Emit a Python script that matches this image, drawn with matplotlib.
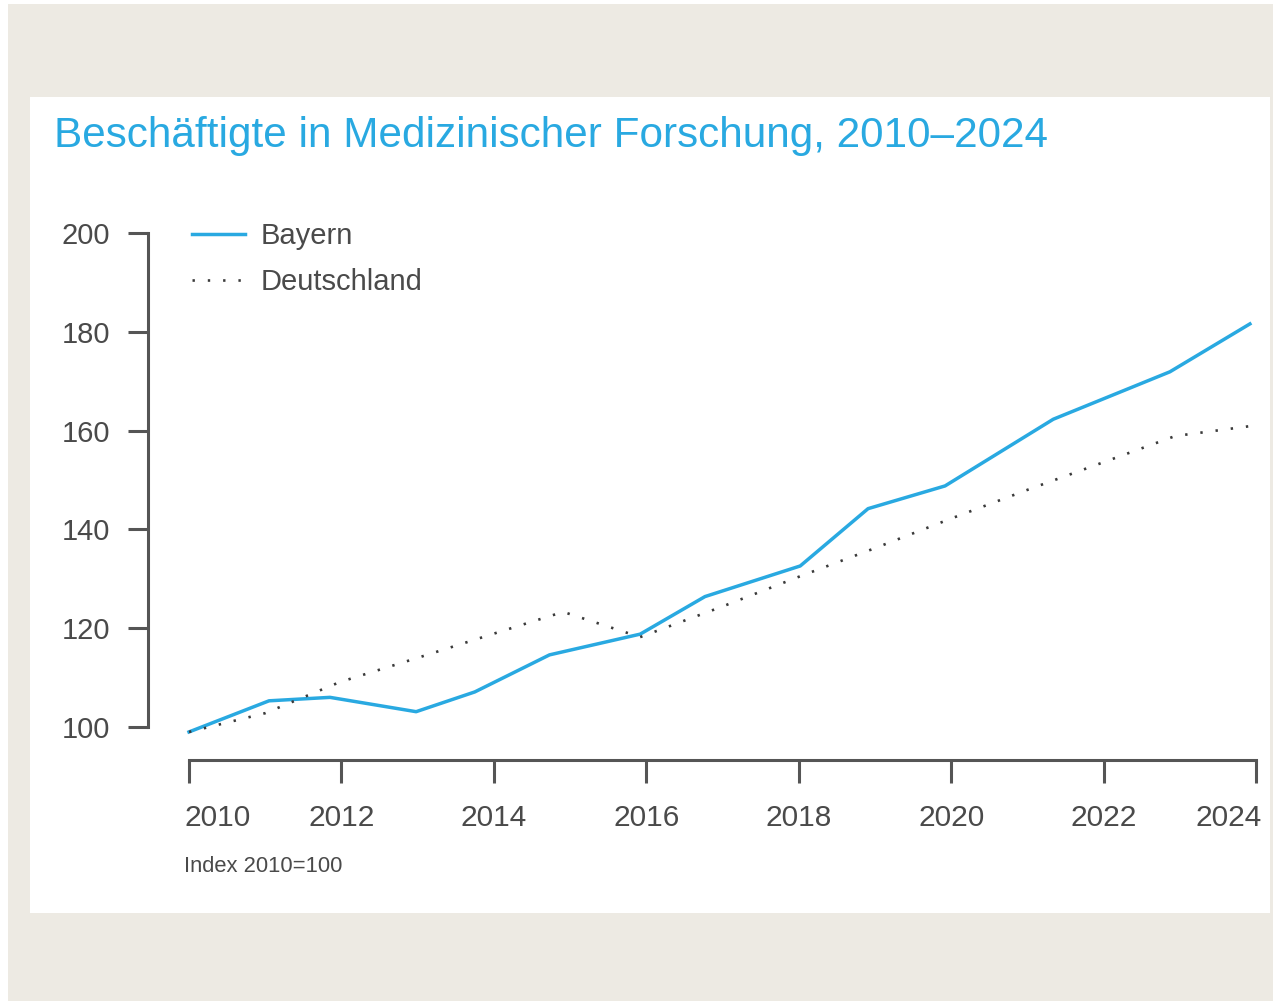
import matplotlib
matplotlib.use("Agg")
import matplotlib.pyplot as plt
from matplotlib.patches import Rectangle
from matplotlib.transforms import ScaledTranslation

plt.rcParams['font.family'] = ['Liberation Sans', 'DejaVu Sans']

# ---- data ----
bayern_x = [2010.0, 2011.05, 2011.85, 2012.98, 2013.75, 2014.73, 2015.92, 2016.77,
            2018.02, 2018.91, 2019.92, 2021.34, 2022.87, 2023.92]
bayern_y = [99.0, 105.3, 106.0, 103.1, 107.1, 114.6, 118.8, 126.4,
            132.6, 144.2, 148.8, 162.3, 171.9, 181.6]

de_x = [2010.0, 2011.0, 2011.98, 2013.0, 2014.0, 2014.91, 2015.92, 2017.0, 2018.0,
        2019.0, 2020.0, 2021.0, 2022.0, 2022.94, 2023.92]
de_y = [99.0, 102.8, 109.1, 114.0, 118.9, 123.3, 118.2, 124.4, 130.4,
        136.2, 142.2, 148.0, 153.6, 158.9, 160.9]

x_ticks = [2010, 2012, 2014, 2016, 2018, 2020, 2022, 2024]
y_ticks = [100, 120, 140, 160, 180, 200]

title = "Beschäftigte in Medizinischer Forschung, 2010–2024"
note = "Index 2010=100"
labels = ["Bayern", "Deutschland"]

# ---- styling ----
BLUE = "#29a9e1"
GREY = "#555555"
TEXT = "#4a4a4a"
BEIGE = "#edeae3"

W, H = 1273, 1001
fig = plt.figure(figsize=(W / 100, H / 100), dpi=100)
fig.patch.set_facecolor("white")

def px(x0, y0, x1, y1):
    return (x0 / W, 1 - y1 / H, (x1 - x0) / W, (y1 - y0) / H)

bx, by, bw, bh = px(8, 4, 1273, 1001)
fig.patches.append(Rectangle((bx, by), bw, bh, transform=fig.transFigure,
                             facecolor=BEIGE, edgecolor="none", zorder=-10))
wx, wy, ww, wh = px(30, 97, 1270, 913)
fig.patches.append(Rectangle((wx, wy), ww, wh, transform=fig.transFigure,
                             facecolor="white", edgecolor="none", zorder=-9))

fig.text(54 / W, 1 - 136 / H, title, color=BLUE, fontsize=30.4,
         ha="left", va="center")

ax = fig.add_axes(px(189, 233, 1256, 760))
ax.set_facecolor("none")
ymin = 100 - (760 - 727) / 4.94
ax.set_xlim(2010, 2024)
ax.set_ylim(ymin, 200)

ax.plot(bayern_x, bayern_y, color=BLUE, lw=2.5, solid_joinstyle="round",
        label=labels[0], clip_on=False)
ax.plot(de_x, de_y, color="#3a3a3a", lw=1.9, linestyle=(0, (0.9, 4.9)),
        label=labels[1], clip_on=False)

for s in ["top", "right"]:
    ax.spines[s].set_visible(False)
ax.spines["left"].set_position(("outward", 41 * 0.72))
ax.spines["left"].set_bounds(100, 200)
ax.spines["bottom"].set_bounds(2010, 2024)
for s in ["left", "bottom"]:
    ax.spines[s].set_color(GREY)
    ax.spines[s].set_linewidth(2.2)

ax.set_yticks(y_ticks)
ax.set_yticklabels([str(v) for v in y_ticks])
ax.set_xticks(x_ticks)
ax.set_xticklabels([str(v) for v in x_ticks])
ax.tick_params(axis="y", direction="out", length=14.4, width=2.2, color=GREY,
               labelsize=21, labelcolor=TEXT, pad=13)
ax.tick_params(axis="x", direction="out", length=16.6, width=2.2, color=GREY,
               labelsize=21.5, labelcolor=TEXT, pad=15)

xl = ax.get_xticklabels()
xl[0].set_ha("left")
xl[0].set_transform(xl[0].get_transform() + ScaledTranslation(-5 / 100, 0, fig.dpi_scale_trans))
xl[-1].set_ha("right")
xl[-1].set_transform(xl[-1].get_transform() + ScaledTranslation(6 / 100, 0, fig.dpi_scale_trans))

leg = ax.legend(loc="upper left", bbox_to_anchor=(192 / W, 1 - 222 / H),
                bbox_transform=fig.transFigure, frameon=False, fontsize=21,
                handlelength=1.8, handletextpad=0.55, labelspacing=0.62,
                borderpad=0, borderaxespad=0)
for t in leg.get_texts():
    t.set_color(TEXT)

fig.text(184 / W, 1 - 866 / H, note, color=TEXT, fontsize=15.8,
         ha="left", va="center")

fig.savefig("out.png", dpi=100, facecolor=fig.get_facecolor())
